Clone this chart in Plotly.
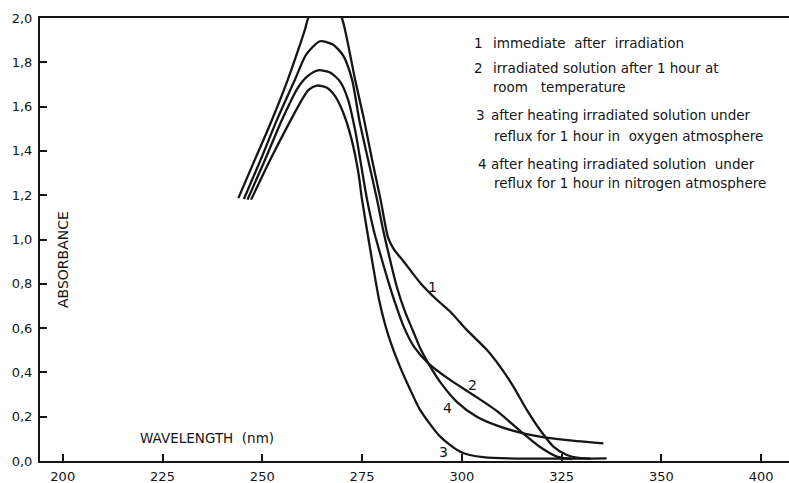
import plotly.graph_objects as go

# ---------------- data ----------------
x_tick_vals = [200, 225, 250, 275, 300, 325, 350, 375]
x_tick_text = ["200", "225", "250", "275", "300", "325", "350", "400"]
y_tick_vals = [0.0, 0.2, 0.4, 0.6, 0.8, 1.0, 1.2, 1.4, 1.6, 1.8, 2.0]
y_tick_text = ["0,0", "0,2", "0,4", "0,6", "0,8", "1,0", "1,2", "1,4", "1,6", "1,8", "2,0"]

# curve 1 : immediate after irradiation
wl_1 = [244.0, 247.8, 251.95, 256.1, 259.05, 260.7, 261.55, 263.5, 265.7, 268.0, 269.92,
        271.25, 273.26, 275.51, 277.52, 279.65, 280.53, 281.53, 283.03, 285.29, 289.55,
        293.73, 297.07, 301.25, 306.27, 309.6, 312.93, 316.29, 319.62, 322.96, 326.32,
        328.82, 332.15]
ab_1 = [1.187, 1.346, 1.519, 1.707, 1.858, 1.948, 2.001, 2.05, 2.07, 2.05, 2.001,
        1.903, 1.722, 1.541, 1.360, 1.180, 1.094, 1.008, 0.954, 0.904, 0.805,
        0.728, 0.675, 0.592, 0.502, 0.426, 0.336, 0.231, 0.140, 0.065, 0.027,
        0.015, 0.011]

# curve 2 : irradiated solution after 1 hour at room temperature
wl_2 = [246.3, 250.7, 254.95, 258.95, 261.5, 264.05, 267.0, 269.5, 271.5, 273.25, 274.76,
        276.26, 278.02, 279.77, 281.53, 283.28, 285.36, 288.05, 291.63, 297.07, 302.91,
        308.77, 314.61, 319.62, 323.81, 327.64]
ab_2 = [1.180, 1.360, 1.541, 1.686, 1.740, 1.764, 1.754, 1.713, 1.632, 1.496, 1.338,
        1.180, 1.035, 0.922, 0.813, 0.714, 0.610, 0.515, 0.441, 0.366, 0.298,
        0.226, 0.136, 0.063, 0.020, 0.009]

# curve 3 : heated under reflux, oxygen atmosphere
wl_3 = [247.2, 252.0, 256.1, 259.5, 261.55, 263.7, 266.2, 268.25, 270.3, 272.4, 274.1,
        275.0, 277.5, 279.27, 280.8, 282.3, 284.5, 287.0, 289.55, 294.6, 299.6, 305.4,
        336.3]
ab_3 = [1.180, 1.360, 1.504, 1.617, 1.674, 1.695, 1.685, 1.647, 1.572, 1.451, 1.300,
        1.180, 0.908, 0.728, 0.615, 0.529, 0.426, 0.325, 0.231, 0.110, 0.042, 0.017,
        0.012]

# curve 4 : heated under reflux, nitrogen atmosphere
wl_4 = [245.4, 249.6, 253.7, 258.2, 261.0, 264.5, 267.7, 270.25, 272.5, 274.3, 276.52,
        278.77, 280.28, 282.03, 283.78, 285.79, 287.79, 289.55, 291.63, 294.56, 298.75,
        303.76, 309.6, 315.44, 322.13, 328.82, 335.49]
ab_4 = [1.183, 1.360, 1.541, 1.722, 1.835, 1.895, 1.880, 1.831, 1.722, 1.541, 1.360,
        1.180, 1.044, 0.908, 0.782, 0.673, 0.587, 0.510, 0.441, 0.357, 0.267,
        0.200, 0.155, 0.125, 0.103, 0.090, 0.080]

legend_lines = [
    ("1", "immediate  after  irradiation"),
    ("2", "irradiated solution after 1 hour at"),
    ("", "room   temperature"),
    ("3", "after heating irradiated solution under"),
    ("", "reflux for 1 hour in  oxygen atmosphere"),
    ("4", "after heating irradiated solution  under"),
    ("", "reflux for 1 hour in nitrogen atmosphere"),
]

# ---------------- layout helpers ----------------
W, H = 789, 483
L, R, T, B = 40, 0, 18, 22
PW, PH = W - L - R, H - T - B


def px(x, y):
    """pixel position -> paper coordinates"""
    return (x - L) / PW, (H - B - y) / PH


INK = "#151515"
FONT = "DejaVu Sans"

fig = go.Figure()
for wl, ab in [(wl_1, ab_1), (wl_2, ab_2), (wl_3, ab_3), (wl_4, ab_4)]:
    fig.add_trace(go.Scatter(x=wl, y=ab, mode="lines",
                             line=dict(color=INK, width=2.3, shape="spline", smoothing=0.7),
                             hoverinfo="skip"))

annotations = []


def add_text(text, x, y, size=13.5, xanchor="left", angle=0):
    ax, ay = px(x, y)
    annotations.append(dict(text=text, x=ax, y=ay, xref="paper", yref="paper",
                            xanchor=xanchor, yanchor="middle", showarrow=False,
                            textangle=angle, font=dict(family=FONT, size=size, color=INK)))


# legend block
num_pos = [(472, 43), (472, 68), None, (474, 115), None, (476, 164), None]
txt_pos = [(491, 43), (491, 68), (491, 87), (489, 115), (492, 136), (489, 164), (492, 183)]
for (num, txt), npos, tpos in zip(legend_lines, num_pos, txt_pos):
    if num and npos:
        add_text(num, npos[0], npos[1])
    add_text(txt, tpos[0], tpos[1])

# curve labels
add_text("1", 426, 287, size=14)
add_text("2", 466, 385, size=14)
add_text("4", 441, 408, size=14)
add_text("3", 437, 452, size=14)

# axis titles
add_text("ABSORBANCE", 63, 260, size=14, xanchor="center", angle=-90)
add_text("WAVELENGTH  (nm)", 138, 438, size=13.5)

fig.update_layout(
    width=W, height=H,
    margin=dict(l=L, r=R, t=T, b=B),
    paper_bgcolor="white", plot_bgcolor="white",
    showlegend=False,
    font=dict(family=FONT, color=INK, size=13),
    annotations=annotations,
    xaxis=dict(range=[194.3, 382.0], showline=True, linecolor=INK, linewidth=2, mirror=True,
               ticks="inside", ticklen=7, tickwidth=1.6, tickcolor=INK,
               tickvals=x_tick_vals, ticktext=x_tick_text, showgrid=False, zeroline=False,
               ticklabelstandoff=2,
               tickfont=dict(family=FONT, size=13, color=INK)),
    yaxis=dict(range=[0, 2.0], showline=True, linecolor=INK, linewidth=2, mirror=False,
               ticks="inside", ticklen=7, tickwidth=1.6, tickcolor=INK,
               tickvals=y_tick_vals, ticktext=y_tick_text, showgrid=False, zeroline=False,
               ticklabelstandoff=3,
               tickfont=dict(family=FONT, size=13, color=INK)),
)

fig.write_html("out.html",
               config={"displayModeBar": False},
               post_script="document.body.style.margin='0px';document.body.style.overflow='hidden';")
